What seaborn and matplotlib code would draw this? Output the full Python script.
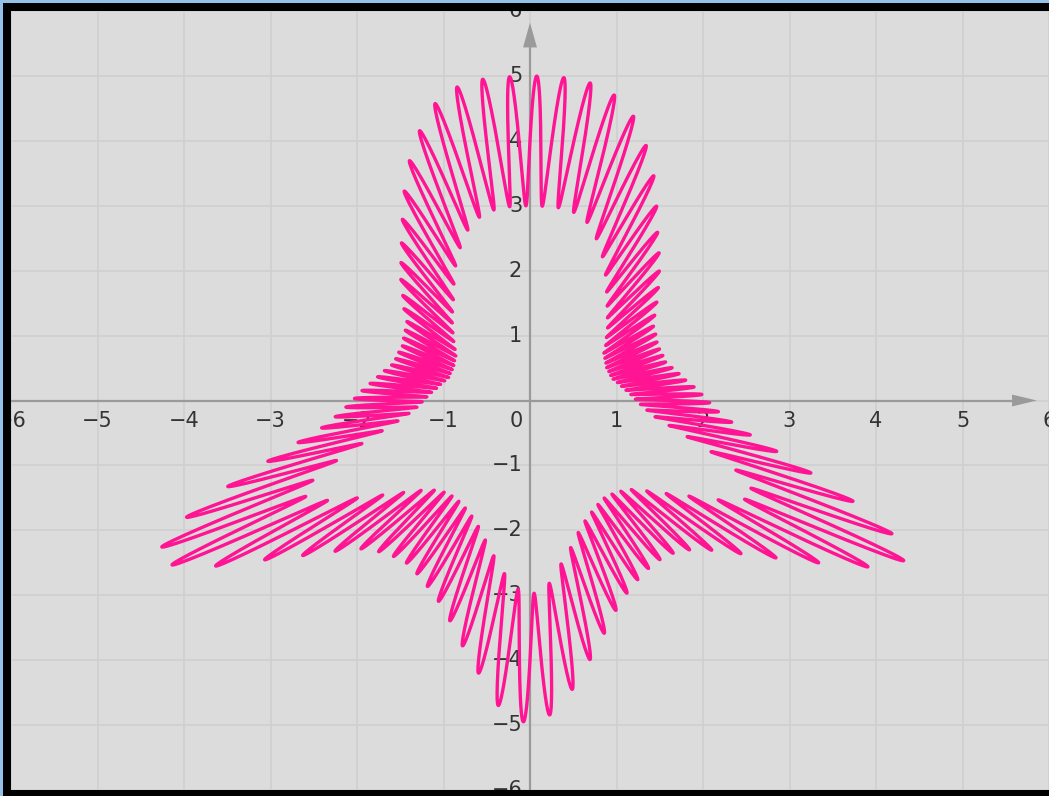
import numpy as np
import pandas as pd
import matplotlib
matplotlib.use("Agg")
import matplotlib.pyplot as plt
from matplotlib.patches import Rectangle, Polygon
import seaborn as sns

# Polar rose with a fast ripple: r = s(theta) * (MEAN_RADIUS - RIPPLE_DEPTH * sin(RIPPLE_COUNT * theta))
RIPPLE_COUNT = 100
MEAN_RADIUS = 4.0
RIPPLE_DEPTH = 1.0

# Envelope scale s(theta) for the right half (degrees); the left half mirrors it.
ENVELOPE_DEG = [-90, -86, -82, -78, -74, -70, -65, -60, -55, -50, -46, -42, -38, -34,
                -30, -26, -22, -18, -14, -10, -5, 0, 10, 20, 30, 40, 48, 55, 60, 64,
                68, 72, 76, 80, 84, 90]
ENVELOPE_SCALE = [1.0, 0.955, 0.85, 0.765, 0.69, 0.64, 0.60, 0.575, 0.575, 0.595, 0.645,
                  0.715, 0.80, 0.92, 1.0, 0.93, 0.79, 0.655, 0.56, 0.49, 0.44, 0.41,
                  0.365, 0.335, 0.34, 0.37, 0.44, 0.52, 0.59, 0.668, 0.76, 0.85, 0.935,
                  0.98, 0.997, 1.0]

GRID_TICKS = list(range(-6, 7))
X_LABELS = [t for t in GRID_TICKS if t != 0]
Y_LABELS = [t for t in GRID_TICKS if t != 0]

CURVE_COLOR = "#ff1493"
PANEL_COLOR = "#dcdcdc"
GRID_COLOR = "#cfcfcf"
AXIS_COLOR = "#9a9a9a"
TEXT_COLOR = "#333333"

# ---- build the curve -------------------------------------------------------
theta = np.linspace(0.0, 2.0 * np.pi, 24001)
deg = np.degrees(np.arctan2(np.sin(theta), np.cos(theta)))
folded = np.where(deg > 90, 180 - deg, np.where(deg < -90, -180 - deg, deg))
scale = np.interp(folded, ENVELOPE_DEG, ENVELOPE_SCALE)
radius = scale * (MEAN_RADIUS - RIPPLE_DEPTH * np.sin(RIPPLE_COUNT * theta))
curve = pd.DataFrame({"x": radius * np.cos(theta), "y": radius * np.sin(theta),
                      "order": np.arange(theta.size)})

# ---- figure ------------------------------------------------------------------
W, H, DPI = 1049, 796, 100
sns.set_style("whitegrid", {"axes.facecolor": PANEL_COLOR, "grid.color": GRID_COLOR})
plt.rcParams["font.family"] = ["DejaVu Sans"]

fig = plt.figure(figsize=(W / DPI, H / DPI), dpi=DPI, facecolor="#93c1ea")
# dark frame around the plotting panel
frame = Rectangle((3 / W, 0), 1 - 3 / W, 1 - 3 / H, transform=fig.transFigure,
                  facecolor="black", edgecolor="none", zorder=-10)
fig.patches.append(frame)

left, right, top, bottom = 11, 1049, 11, 790
ax = fig.add_axes([left / W, 1 - bottom / H, (right - left) / W, (bottom - top) / H])
ax.set_zorder(5)
ax.set_facecolor(PANEL_COLOR)

x0_px, y0_px, sx, sy = 530.0, 403.5, 87.0, 65.6
ax.set_xlim((left - x0_px) / sx, (right - x0_px) / sx)
ax.set_ylim((y0_px - bottom) / sy, (y0_px - top) / sy)

ax.set_xticks(GRID_TICKS)
ax.set_yticks(GRID_TICKS)
ax.grid(True, color=GRID_COLOR, linewidth=1.2, zorder=0)
ax.tick_params(length=0, labelbottom=False, labelleft=False)
for sp in ax.spines.values():
    sp.set_visible(False)

# axes through the origin with arrow heads
xmin, xmax = ax.get_xlim()
ymin, ymax = ax.get_ylim()
x_tip, y_tip = 5.86, 5.82
ax.plot([xmin, x_tip - 0.2], [0, 0], color=AXIS_COLOR, lw=1.6, zorder=1,
        solid_capstyle="butt")
ax.plot([0, 0], [ymin, y_tip - 0.3], color=AXIS_COLOR, lw=1.6, zorder=1,
        solid_capstyle="butt")
ax.add_patch(Polygon([[x_tip, 0], [x_tip - 25 / sx, 6 / sy], [x_tip - 25 / sx, -6 / sy]],
                     closed=True, facecolor=AXIS_COLOR, edgecolor="none", zorder=1))
ax.add_patch(Polygon([[0, y_tip], [-7 / sx, y_tip - 25 / sy], [7 / sx, y_tip - 25 / sy]],
                     closed=True, facecolor=AXIS_COLOR, edgecolor="none", zorder=1))

# tick numbers beside the axes
lab_kw = dict(fontsize=15, color=TEXT_COLOR, zorder=2, clip_on=True)
for t in X_LABELS:
    ax.text(t, -0.31, f"\u2212{abs(t)}" if t < 0 else str(t), ha="center", va="center", **lab_kw)
for t in Y_LABELS:
    ax.text(-0.09, t, f"\u2212{abs(t)}" if t < 0 else str(t), ha="right", va="center", **lab_kw)
ax.text(-0.16, -0.31, "0", ha="center", va="center", **lab_kw)

sns.lineplot(data=curve, x="x", y="y", sort=False, estimator=None, color=CURVE_COLOR,
             linewidth=2.4, ax=ax, zorder=3)
ax.set_xlabel("")
ax.set_ylabel("")

fig.savefig("out.png", dpi=DPI, facecolor=fig.get_facecolor())
